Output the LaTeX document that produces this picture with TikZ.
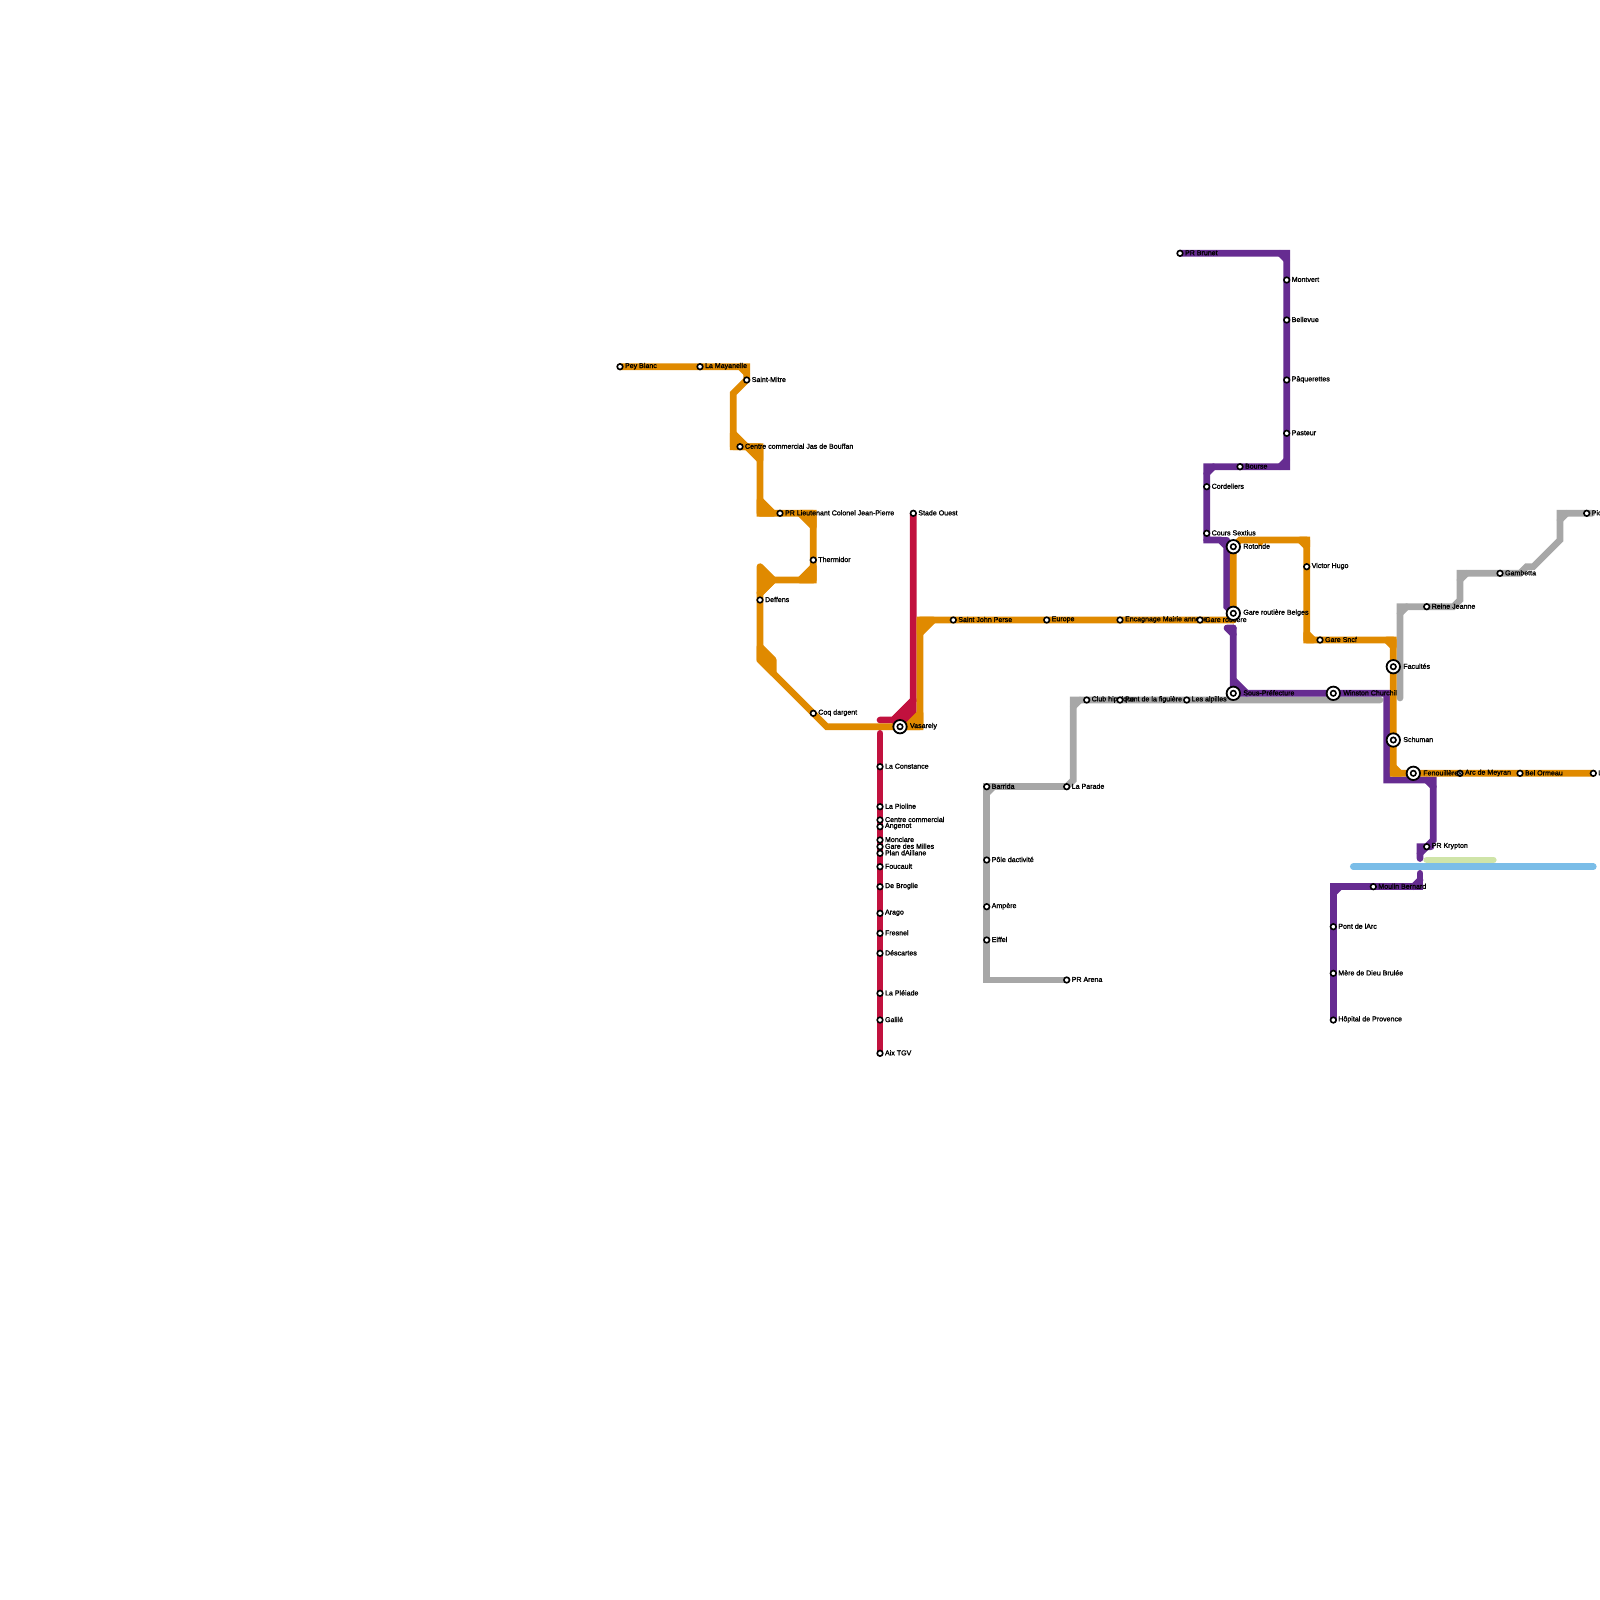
\documentclass[tikz,border=0pt]{standalone}
\usepackage{fontspec}
\newfontface\stnfont{Liberation Sans}[FakeBold=1.6]
\definecolor{lineorange}{RGB}{224,138,0}
\definecolor{linered}{RGB}{193,17,62}
\definecolor{linepurple}{RGB}{102,44,145}
\definecolor{linegray}{RGB}{167,167,167}
\definecolor{lineblue}{RGB}{122,189,232}
\definecolor{linegreen}{RGB}{207,228,168}
\usetikzlibrary{backgrounds}

\begin{document}
\begin{tikzpicture}[x=1pt, y=-1pt,
      stn/.style={circle, draw=black, fill=white, line width=1.6pt,
                  inner sep=0pt, minimum size=5.6pt,
                  label={[lbl, label distance=1.2pt]right:{#1}}},
      lbl/.style={font=\fontsize{7.07}{7.5}\stnfont, inner sep=0pt, text=black, yshift=0.5pt},
      hub/.style={circle, draw=black, fill=white, line width=1.8pt,
                  inner sep=0pt, minimum size=13.4pt,
                  path picture={\draw[black, fill=white, line width=1.6pt]
                    (path picture bounding box.center) circle[radius=2.7pt];},
                  label={[lbl, label distance=2.2pt]right:{#1}}},
      tube/.style={line width=6.67pt, line cap=round, line join=miter},
      orange line/.style={tube, draw=lineorange},
      red line/.style={tube, draw=linered},
      purple line/.style={tube, draw=linepurple},
      gray line/.style={tube, draw=linegray},
      orange wedge/.style={orange line, fill=lineorange, line join=round},
      red wedge/.style={red line, fill=linered, line join=round}
  ]
    \useasboundingbox (0,0) rectangle (1600,1600);

    % orange
    \node[stn=Pey Blanc] (pey) at (620,366.7) {};
    \node[stn=La Mayanelle] (mayanelle) at (700,366.7) {};
    \node[stn=Saint-Mitre] (mitre) at (746.7,380) {};
    \node[stn=Centre commercial Jas de Bouffan] (jas) at (740,446.7) {};
    \node[stn=PR Lieutenant Colonel Jean-Pierre] (lieutenant) at (780,513.3) {};
    \node[stn=Thermidor] (thermidor) at (813.3,560) {};
    \node[stn=Deffens] (deffens) at (760,600) {};
    \node[stn=Coq dargent] (coq) at (813.3,713.3) {};
    \node[stn=Saint John Perse] (perse) at (953.3,620) {};
    \node[stn=Europe] (europe) at (1046.7,620) {};
    \node[stn=Encagnage Mairie annexe] (encagnage) at (1120,620) {};
    \node[stn=Gare routière] (gare) at (1200,620) {};
    \node[stn=Victor Hugo] (hugo) at (1306.7,566.7) {};
    \node[stn=Gare Sncf] (sncf) at (1320,640) {};
    \node[stn=Arc de Meyran] (meyran) at (1460,773.3) {};
    \node[stn=Bel Ormeau] (ormeau) at (1520,773.3) {};
    \node[stn=Le Canet] (canet) at (1593.3,773.3) {};

    % red
    \node[stn=Stade Ouest] (stade) at (913.3,513.3) {};
    \node[stn=La Constance] (constance) at (880,766.7) {};
    \node[stn=La Pioline] (pioline) at (880,806.7) {};
    \node[stn=Centre commercial] (centre) at (880,820) {};
    \node[stn=Angenot] (angenot) at (880,826.7) {};
    \node[stn=Monclare] (monclare) at (880,840) {};
    \node[stn=Gare des Milles] (milles) at (880,846.7) {};
    \node[stn=Plan dAillane] (aillane) at (880,853.3) {};
    \node[stn=Foucault] (foucault) at (880,866.7) {};
    \node[stn=De Broglie] (broglie) at (880,886.7) {};
    \node[stn=Arago] (arago) at (880,913.3) {};
    \node[stn=Fresnel] (fresnel) at (880,933.3) {};
    \node[stn=Déscartes] (descartes) at (880,953.3) {};
    \node[stn=La Pléiade] (pleiade) at (880,993.3) {};
    \node[stn=Galilé] (galile) at (880,1020) {};
    \node[stn=Aix TGV] (aix) at (880,1053.3) {};

    % gray
    \node[stn=Barrida] (barrida) at (986.7,786.7) {};
    \node[stn=La Parade] (parade) at (1066.7,786.7) {};
    \node[stn=Pôle dactivité] (pole) at (986.7,860) {};
    \node[stn=Ampère] (ampere) at (986.7,906.7) {};
    \node[stn=Eiffel] (eiffel) at (986.7,940) {};
    \node[stn=PR Arena] (arena) at (1066.7,980) {};
    \node[stn=Club hippique] (club) at (1086.7,700) {};
    \node[stn=Pont de la figuière] (figuiere) at (1120,700) {};
    \node[stn=Les alpilles] (alpilles) at (1186.7,700) {};
    \node[stn=Reine Jeanne] (reine) at (1426.7,606.7) {};
    \node[stn=Gambetta] (gambetta) at (1500,573.3) {};
    \node[stn=Picasso] (picasso) at (1586.7,513.3) {};

    % purple
    \node[stn=PR Brunet] (brunet) at (1180,253.3) {};
    \node[stn=Montvert] (montvert) at (1286.7,280) {};
    \node[stn=Bellevue] (bellevue) at (1286.7,320) {};
    \node[stn=Pâquerettes] (paquerettes) at (1286.7,380) {};
    \node[stn=Pasteur] (pasteur) at (1286.7,433.3) {};
    \node[stn=Bourse] (bourse) at (1240,466.7) {};
    \node[stn=Cordeliers] (cordeliers) at (1206.7,486.7) {};
    \node[stn=Cours Sextius] (sextius) at (1206.7,533.3) {};
    \node[stn=PR Krypton] (krypton) at (1426.7,846.7) {};
    \node[stn=Moulin Bernard] (moulin) at (1373.3,886.7) {};
    \node[stn=Pont de lArc] (arc) at (1333.3,926.7) {};
    \node[stn=Mère de Dieu Brulée] (mere) at (1333.3,973.3) {};
    \node[stn=Hôpital de Provence] (hopital) at (1333.3,1020) {};

    % interchanges
    \node[hub=Vasarely] (vasarely) at (900,726.7) {};
    \node[hub=Rotonde] (rotonde) at (1233.3,546.7) {};
    \node[hub=Gare routière Belges] (belges) at (1233.3,613.3) {};
    \node[hub=Sous-Préfecture] (sous) at (1233.3,693.3) {};
    \node[hub=Winston Churchil] (winston) at (1333.3,693.3) {};
    \node[hub=Facultés] (facultes) at (1393.3,666.7) {};
    \node[hub=Schuman] (schuman) at (1393.3,740) {};
    \node[hub=Fenouillères] (fenouilleres) at (1413.3,773.3) {};

    \begin{pgfonlayer}{background}
    \draw[gray line] (parade.center) -- (1073.3,780) -- (1073.3,700) -- (club.center) -- (figuiere.center) -- (alpilles.center) -- (1380,700);
    \draw[gray line] (1073.3,706.7) -- (1080,700);
    \draw[gray line] (parade.center) -- (barrida.center) -- (986.7,980) -- (arena.center);
    \draw[gray line] (986.7,793.4) -- (993.4,786.7);
    \draw[gray line] (1400,698) -- (1400,606.7) -- (reine.center) -- (1453.3,606.7) -- (1460,600) -- (1460,573.3) -- (gambetta.center) -- (1520,573.3) -- (1526.7,566.7) -- (1533.3,566.7) -- (1560,540) -- (1560,513.3) -- (picasso.center) -- (1592,513.3);
    \draw[gray line] (1400,613.4) -- (1406.7,606.7);
    \draw[gray line] (1460,580) -- (1466.7,573.3);
    \draw[gray line] (1560,520) -- (1566.7,513.3);

    \draw[red line] (stade.center) -- (913.3,700) -- (893.3,720) -- (880,720);
    \draw[red wedge] (913.3,700) -- (913.3,713.3) -- (vasarely.center) -- (893.3,720) -- cycle;
    \draw[red line] (880,733.3) -- (aix.center);

    \draw[purple line] (brunet.center) -- (1286.7,253.3) -- (1286.7,466.7) -- (1206.7,466.7) -- (1206.7,540) -- (1220,540) -- (1226.7,546.7) -- (1226.7,606.7) -- (belges.center);
    \draw[purple line] (1280,253.3) -- (1286.7,260);
    \draw[purple line] (1280,466.7) -- (1286.7,460);
    \draw[purple line] (1206.7,473.4) -- (1213.4,466.7);
    \draw[purple line] (1206.7,540) -- (1226.7,540);
    \draw[purple line, line join=round] (1233.3,628) -- (1227,628) -- (1233.3,634.3);
    \draw[purple line] (1233.3,628) -- (sous.center) -- (winston.center) -- (1386.7,693.3) -- (1386.7,780) -- (1433.3,780) -- (1433.3,840) -- (krypton.center) -- (1420,846.7) -- (1420,858.5);
    \draw[purple line] (1233.3,680) -- (1246.7,693.3);
    \draw[purple line] (1426.7,780) -- (1433.3,786.7);
    \draw[purple line] (1420,853.4) -- (krypton.center) -- (1431,846.7);
    \draw[purple line] (1420,873.3) -- (1420,886.7) -- (moulin.center) -- (1333.3,886.7) -- (hopital.center);
    \draw[purple line] (1333.3,893.4) -- (1340,886.7);
    \draw[purple line] (1413.3,886.7) -- (1420,880);

    \draw[orange line] (pey.center) -- (746.7,366.7) -- (mitre.center) -- (733.3,393.3) -- (733.3,446.7) -- (jas.center);
    \draw[orange line] (740,366.7) -- (746.7,373.4);
    \draw[orange wedge] (733.3,433.3) -- (746.7,446.7) -- (733.3,446.7) -- cycle;
    \draw[orange wedge] (746.7,446.7) -- (760,446.7) -- (760,460) -- cycle;
    \draw[orange line] (jas.center) -- (760,446.7) -- (760,513.3) -- (813.3,513.3) -- (813.3,580) -- (773.3,580) -- (760,593.3) -- (deffens.center);
    \draw[orange wedge] (760,500) -- (773.3,513.3) -- (760,513.3) -- cycle;
    \draw[orange wedge] (800,513.3) -- (813.3,526.7) -- (813.3,513.3) -- cycle;
    \draw[orange wedge] (800,580) -- (813.3,566.7) -- (813.3,580) -- cycle;
    \draw[orange wedge] (760,566.7) -- (773.3,580) -- (760,593.3) -- cycle;
    \draw[orange line] (deffens.center) -- (760,660) -- (coq.center) -- (826.7,726.7) -- (vasarely.center) -- (920,726.7) -- (920,620) -- (perse.center) -- (europe.center) -- (encagnage.center) -- (gare.center) -- (1233.3,620);
    \draw[orange wedge] (760,646.7) -- (773.3,660) -- (773.3,673.3) -- (760,660) -- cycle;
    \draw[orange wedge] (906.7,726.7) -- (920,713.3) -- (920,726.7) -- cycle;
    \draw[orange wedge] (920,633.3) -- (933.3,620) -- (920,620) -- cycle;
    \draw[orange line] (1233.3,620) -- (rotonde.center) -- (1240,540) -- (1306.7,540) -- (1306.7,640) -- (1393.3,640) -- (1393.3,773.3) -- (canet.center);
    \draw[orange wedge] (1300,540) -- (1306.7,546.7) -- (1306.7,540) -- cycle;
    \draw[orange wedge] (1306.7,633.3) -- (1313.4,640) -- (1306.7,640) -- cycle;
    \draw[orange wedge] (1386.7,640) -- (1393.3,646.7) -- (1393.3,640) -- cycle;
    \draw[orange wedge] (1393.3,766.7) -- (1400,773.3) -- (1393.3,773.3) -- cycle;
    \draw[orange line, line width=5pt] (1260,541) -- (1260,543.5);

    \draw[tube, draw=linegreen] (1426.7,860) -- (1493.3,860);
    \draw[tube, draw=lineblue] (1353.3,866.7) -- (1593.3,866.7);
    \end{pgfonlayer}
  \end{tikzpicture}
\end{document}
